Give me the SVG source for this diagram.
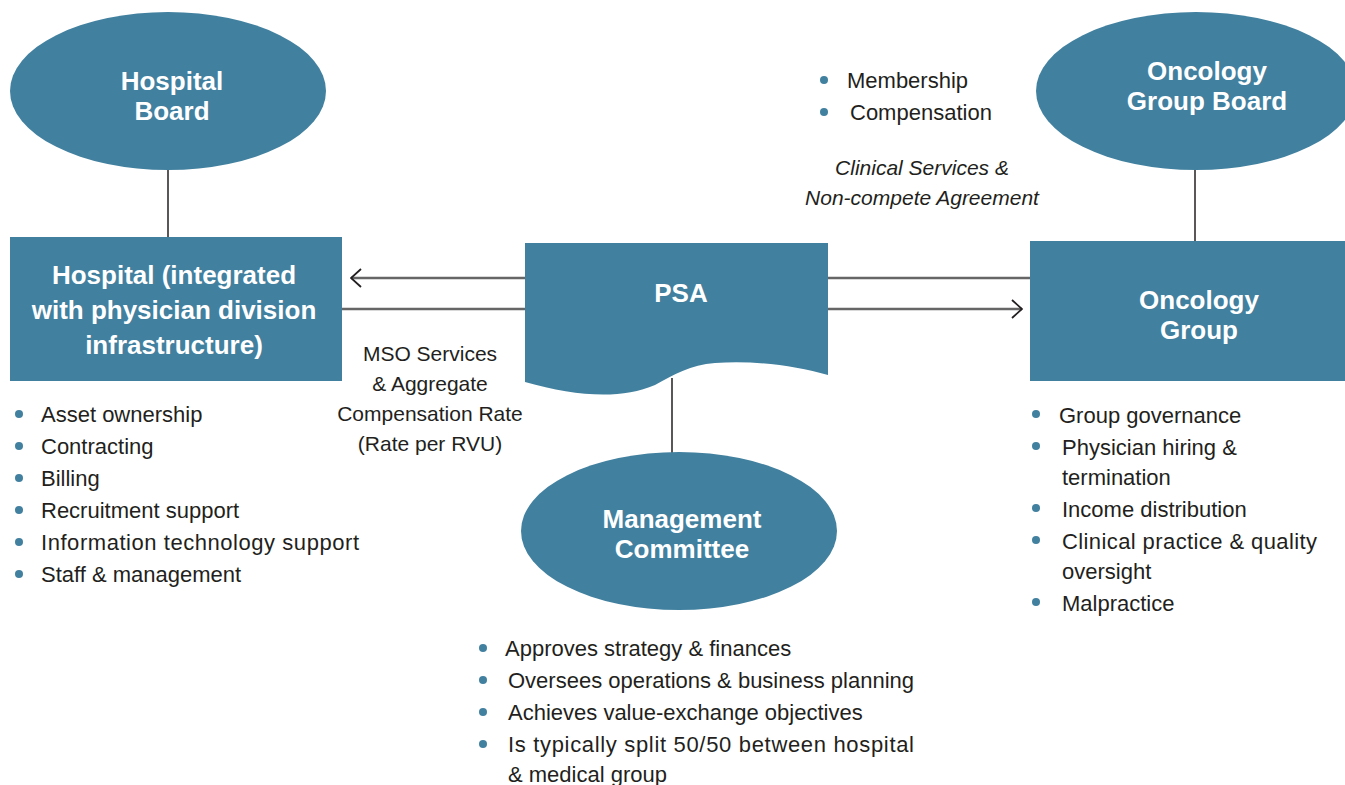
<svg xmlns="http://www.w3.org/2000/svg" width="1345" height="785" viewBox="0 0 1345 785">
  <style>
    .shape { fill: #41809f; }
    .title { font-family: "Liberation Sans", Arial, sans-serif; font-weight: bold; font-size: 26px; fill: #ffffff; text-anchor: middle; }
    .body { font-family: "Liberation Sans", Arial, sans-serif; font-size: 22px; fill: #231f20; }
    .note { font-family: "Liberation Sans", Arial, sans-serif; font-size: 21px; fill: #231f20; text-anchor: middle; }
    .ital { font-style: italic; }
    .dot { fill: #41809f; }
    .wire { stroke: #666666; stroke-width: 2.5; fill: none; }
    .stem { stroke: #231f20; stroke-width: 1.5; fill: none; }
  </style>
  <defs>
    <marker id="chevron" viewBox="0 0 12 20" refX="11" refY="10" markerWidth="12" markerHeight="20" markerUnits="userSpaceOnUse" orient="auto">
      <path d="M1,1 L11,10 L1,19" fill="none" stroke="#231f20" stroke-width="1.8"/>
    </marker>
  </defs>

  <rect width="1345" height="785" fill="#ffffff"/>

  <!-- connectors -->
  <g id="connectors">
    <line class="stem" x1="168" y1="168" x2="168" y2="238"/>
    <line class="stem" x1="1195" y1="168" x2="1195" y2="242"/>
    <line class="stem" x1="672" y1="378" x2="672" y2="453"/>
    <line class="wire" x1="525" y1="278" x2="351" y2="278" marker-end="url(#chevron)"/>
    <line class="wire" x1="342" y1="309" x2="525" y2="309"/>
    <line class="wire" x1="828" y1="278" x2="1030" y2="278"/>
    <line class="wire" x1="828" y1="309" x2="1022" y2="309" marker-end="url(#chevron)"/>
  </g>

  <!-- hospital board -->
  <g id="hospital-board">
    <ellipse class="shape" cx="168" cy="91" rx="158" ry="79"/>
    <text class="title" x="172" y="90">Hospital</text>
    <text class="title" x="172" y="120">Board</text>
  </g>

  <!-- hospital -->
  <g id="hospital">
    <rect class="shape" x="10" y="237" width="332" height="144"/>
    <text class="title" x="174" y="284">Hospital (integrated</text>
    <text class="title" x="174" y="319">with physician division</text>
    <text class="title" x="174" y="354">infrastructure)</text>
  </g>

  <!-- PSA document -->
  <g id="psa">
    <path class="shape" d="M525,243 H828 V375 C795,366 755,360 715,363 C690,365 675,374 655,385 C620,400 575,396 525,382 Z"/>
    <text class="title" x="681" y="302">PSA</text>
  </g>

  <!-- management committee -->
  <g id="management-committee">
    <ellipse class="shape" cx="679" cy="531" rx="158" ry="79"/>
    <text class="title" x="682" y="528">Management</text>
    <text class="title" x="682" y="558">Committee</text>
  </g>

  <!-- oncology group board -->
  <g id="oncology-group-board">
    <ellipse class="shape" cx="1196" cy="91" rx="160" ry="79"/>
    <text class="title" x="1207" y="80">Oncology</text>
    <text class="title" x="1207" y="110">Group Board</text>
  </g>

  <!-- oncology group -->
  <g id="oncology-group">
    <rect class="shape" x="1030" y="241" width="320" height="140"/>
    <text class="title" x="1199" y="309">Oncology</text>
    <text class="title" x="1199" y="339">Group</text>
  </g>

  <!-- agreement labels -->
  <g id="mso-label">
    <text class="note" x="430" y="361">MSO Services</text>
    <text class="note" x="430" y="391">&amp; Aggregate</text>
    <text class="note" x="430" y="421">Compensation Rate</text>
    <text class="note" x="430" y="451">(Rate per RVU)</text>
  </g>
  <g id="clinical-label">
    <text class="note ital" x="922" y="175">Clinical Services &amp;</text>
    <text class="note ital" x="922" y="205">Non-compete Agreement</text>
  </g>

  <!-- board duties -->
  <g id="board-list">
    <circle class="dot" cx="824" cy="80" r="4"/>
    <text class="body" x="847" y="88">Membership</text>
    <circle class="dot" cx="824" cy="112" r="4"/>
    <text class="body" x="850" y="120">Compensation</text>
  </g>

  <!-- hospital duties -->
  <g id="hospital-list">
    <circle class="dot" cx="19" cy="414" r="4"/>
    <text class="body" x="41" y="422">Asset ownership</text>
    <circle class="dot" cx="19" cy="446" r="4"/>
    <text class="body" x="41" y="454">Contracting</text>
    <circle class="dot" cx="19" cy="478" r="4"/>
    <text class="body" x="41" y="486">Billing</text>
    <circle class="dot" cx="19" cy="510" r="4"/>
    <text class="body" x="41" y="518">Recruitment support</text>
    <circle class="dot" cx="19" cy="542" r="4"/>
    <text class="body" x="41" y="550" textLength="318">Information technology support</text>
    <circle class="dot" cx="19" cy="574" r="4"/>
    <text class="body" x="41" y="582">Staff &amp; management</text>
  </g>

  <!-- oncology group duties -->
  <g id="group-list">
    <circle class="dot" cx="1036" cy="414" r="4"/>
    <text class="body" x="1059" y="423">Group governance</text>
    <circle class="dot" cx="1036" cy="446" r="4"/>
    <text class="body" x="1062" y="455">Physician hiring &amp;</text>
    <text class="body" x="1062" y="485">termination</text>
    <circle class="dot" cx="1036" cy="508" r="4"/>
    <text class="body" x="1062" y="517">Income distribution</text>
    <circle class="dot" cx="1036" cy="540" r="4"/>
    <text class="body" x="1062" y="549" textLength="255">Clinical practice &amp; quality</text>
    <text class="body" x="1062" y="579">oversight</text>
    <circle class="dot" cx="1036" cy="602" r="4"/>
    <text class="body" x="1062" y="611">Malpractice</text>
  </g>

  <!-- committee duties -->
  <g id="committee-list">
    <circle class="dot" cx="483" cy="648" r="4"/>
    <text class="body" x="505" y="656">Approves strategy &amp; finances</text>
    <circle class="dot" cx="483" cy="680" r="4"/>
    <text class="body" x="508" y="688">Oversees operations &amp; business planning</text>
    <circle class="dot" cx="483" cy="712" r="4"/>
    <text class="body" x="508" y="720">Achieves value-exchange objectives</text>
    <circle class="dot" cx="483" cy="744" r="4"/>
    <text class="body" x="508" y="752" textLength="406">Is typically split 50/50 between hospital</text>
    <text class="body" x="508" y="782">&amp; medical group</text>
  </g>
</svg>
